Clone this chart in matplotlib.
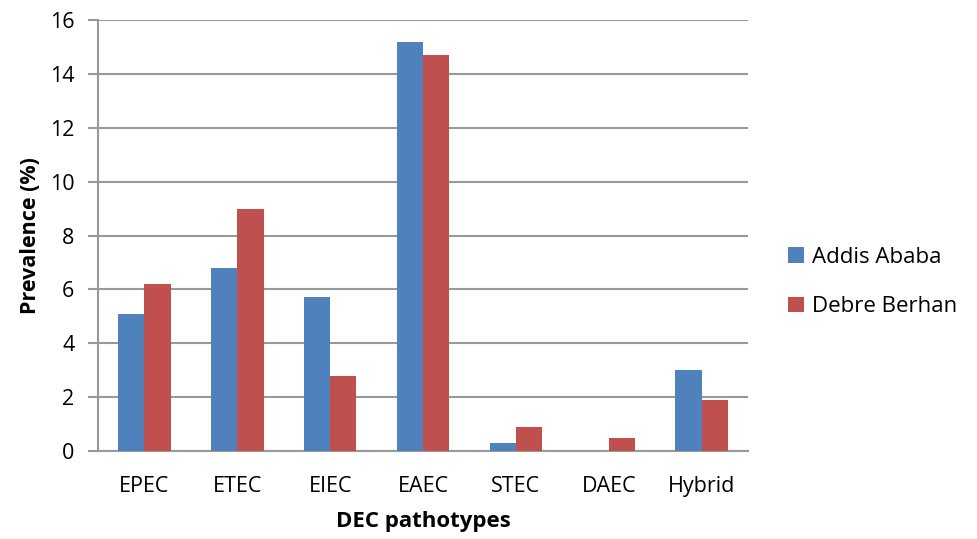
import matplotlib
matplotlib.use("Agg")
import matplotlib.pyplot as plt
import numpy as np

categories = ["EPEC", "ETEC", "EIEC", "EAEC", "STEC", "DAEC", "Hybrid"]
addis_ababa = [5.1, 6.8, 5.7, 15.2, 0.3, 0.0, 3.0]
debre_berhan = [6.2, 9.0, 2.8, 14.7, 0.9, 0.5, 1.9]
yticks = [0, 2, 4, 6, 8, 10, 12, 14, 16]

plt.rcParams['font.family'] = ['Open Sans', 'DejaVu Sans']

fig = plt.figure(figsize=(9.78, 5.39), dpi=100)
ax = fig.add_axes([98/978, 1-451/539, (748-98)/978, (451-20)/539])

x = np.arange(len(categories))
w = 0.283
grid_c = "#999999"
ax.bar(x - w/2, addis_ababa, w, color="#4F81BD", label="Addis Ababa", zorder=3)
ax.bar(x + w/2, debre_berhan, w, color="#C0504D", label="Debre Berhan", zorder=3)

ax.set_xlim(-0.5, len(categories) - 0.5)
ax.set_ylim(0, 16)
ax.set_yticks(yticks)
ax.set_yticklabels([str(t) for t in yticks], fontsize=15.5)
ax.set_xticks(x)
ax.set_xticklabels(categories, fontsize=15.5)
ax.yaxis.grid(True, color=grid_c, linewidth=1.5, zorder=0)
ax.set_axisbelow(True)
for s in ["top", "right"]:
    ax.spines[s].set_visible(False)
ax.spines["left"].set_color(grid_c)
ax.spines["bottom"].set_color(grid_c)
ax.spines["left"].set_linewidth(1.5)
ax.spines["bottom"].set_linewidth(1.5)
ax.tick_params(axis="y", length=7, width=1.5, color=grid_c, pad=10)
ax.tick_params(axis="x", length=0, pad=18)

ax.set_ylabel("Prevalence (%)", fontsize=15.5, fontweight="bold", labelpad=6)
ax.set_xlabel("DEC pathotypes", fontsize=16, fontweight="bold", labelpad=10)

leg = ax.legend(loc="center left", bbox_to_anchor=(788/978, 1-282/539),
                bbox_transform=fig.transFigure, frameon=False,
                fontsize=16, handlelength=0.7, handleheight=0.7,
                labelspacing=1.3, handletextpad=0.4, borderpad=0, borderaxespad=0)

fig.savefig("out.png", dpi=100)
